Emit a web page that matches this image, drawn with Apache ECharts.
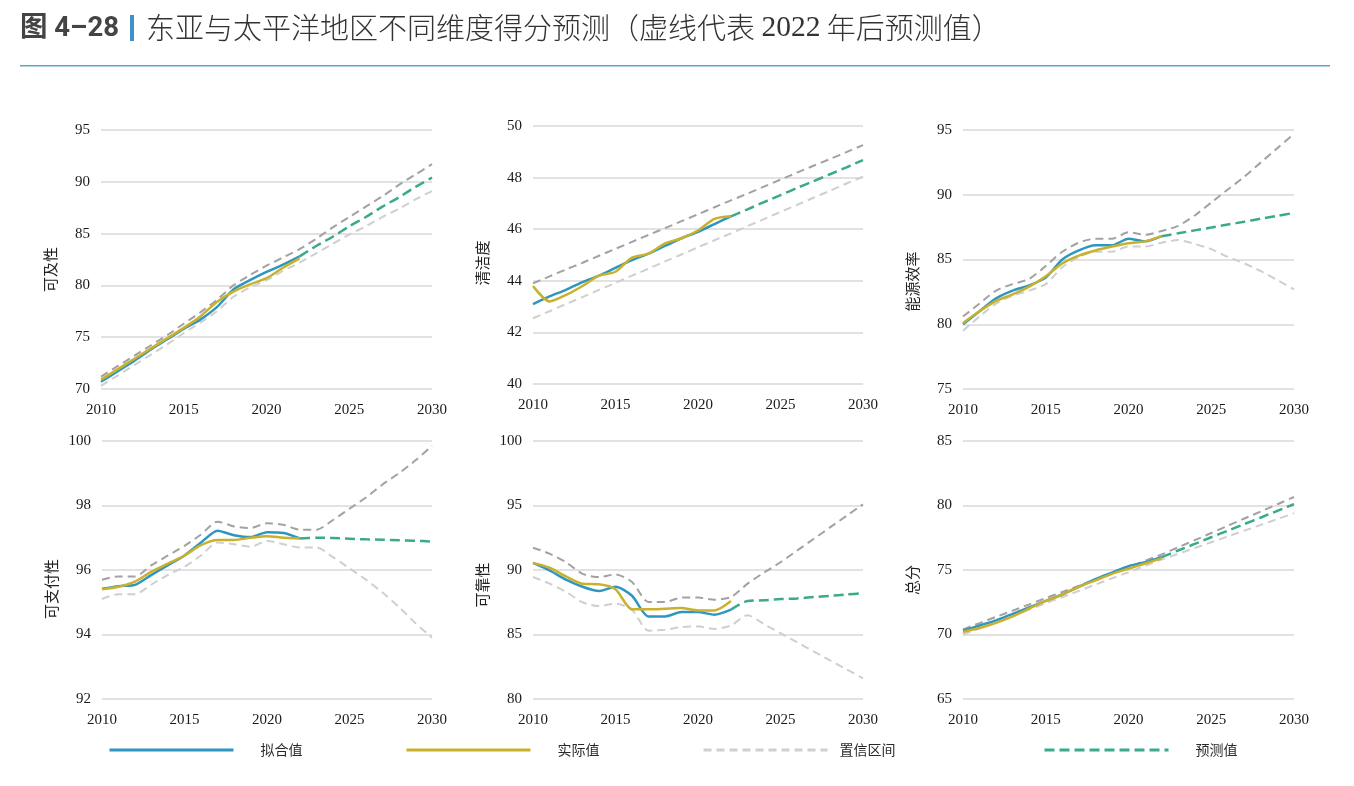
<!DOCTYPE html>
<html>
<head>
<meta charset="utf-8">
<script src="https://cdn.jsdelivr.net/npm/echarts@6/dist/echarts.min.js"></script>
<style>
html,body{margin:0;padding:0;background:#fff;}
#chart{width:1354px;height:786px;}
</style>
</head>
<body>
<div id="chart"></div>
<script>
// ---------- data ----------
const YEARS_HIST = [2010,2011,2012,2013,2014,2015,2016,2017,2018,2019,2020,2021,2022];
const YEARS_FC = [2022,2023,2024,2025,2026,2027,2028,2029,2030];
const YEARS_ALL = [2010,2011,2012,2013,2014,2015,2016,2017,2018,2019,2020,2021,2022,2023,2024,2025,2026,2027,2028,2029,2030];
const X_TICKS = [2010,2015,2020,2025,2030];

const PANEL_NAMES = ['可及性','清洁度','能源效率','可支付性','可靠性','总分'];
const LEGEND_NAMES = ['拟合值','实际值','置信区间','预测值'];

// 可及性
const access_fit = [70.7,71.7,72.7,73.8,74.8,75.8,76.7,77.9,79.6,80.5,81.3,82.0,82.8];
const access_act = [70.9,71.9,72.9,73.9,74.9,75.9,77.0,78.4,79.4,80.1,80.7,81.7,82.6];
const access_fc  = [82.8,83.8,84.7,85.7,86.6,87.6,88.5,89.5,90.4];
const access_up  = [71.2,72.2,73.2,74.2,75.2,76.3,77.4,78.6,80.0,81.0,81.9,82.7,83.5,84.5,85.6,86.6,87.6,88.6,89.7,90.7,91.7];
const access_lo  = [70.3,71.3,72.3,73.3,74.3,75.4,76.4,77.5,78.9,79.8,80.5,81.4,82.2,83.1,84.0,84.9,85.7,86.6,87.4,88.3,89.1];

// 清洁度
const clean_fit = [43.1,43.4,43.65,43.95,44.2,44.5,44.8,45.05,45.35,45.65,45.9,46.2,46.5];
const clean_act = [43.8,43.2,43.45,43.8,44.2,44.35,44.9,45.05,45.45,45.65,45.95,46.4,46.5];
const clean_fc  = [46.5,46.77,47.05,47.32,47.6,47.86,48.13,48.4,48.68];
const clean_up  = [43.9,44.17,44.44,44.7,44.97,45.24,45.51,45.78,46.04,46.31,46.58,46.85,47.12,47.38,47.65,47.92,48.19,48.46,48.72,48.99,49.26];
const clean_lo  = [42.55,42.82,43.1,43.37,43.65,43.92,44.2,44.47,44.75,45.02,45.3,45.57,45.84,46.12,46.39,46.67,46.94,47.22,47.49,47.77,48.04];

// 能源效率
const energy_fit = [80.0,81.0,82.0,82.6,83.0,83.6,85.0,85.7,86.1,86.1,86.6,86.4,86.8];
const energy_act = [80.1,81.0,81.8,82.3,82.9,83.7,84.7,85.3,85.7,86.0,86.25,86.4,86.8];
const energy_fc  = [86.8,87.02,87.25,87.47,87.7,87.92,88.15,88.37,88.6];
const energy_up  = [80.6,81.6,82.6,83.1,83.5,84.5,85.6,86.3,86.6,86.6,87.1,86.9,87.2,87.6,88.4,89.4,90.4,91.4,92.5,93.6,94.7];
const energy_lo  = [79.5,80.6,81.6,82.2,82.6,83.1,84.4,85.2,85.6,85.6,86.0,86.0,86.3,86.5,86.2,85.8,85.2,84.7,84.1,83.4,82.7];

// 可支付性
const afford_fit = [95.42,95.5,95.54,95.85,96.15,96.45,96.85,97.22,97.08,97.02,97.17,97.15,96.98];
const afford_act = [95.4,95.48,95.64,95.95,96.2,96.45,96.77,96.93,96.93,97.0,97.05,97.0,96.98];
const afford_fc  = [96.98,97.0,96.99,96.97,96.95,96.94,96.92,96.91,96.88];
const afford_up  = [95.7,95.8,95.8,96.15,96.45,96.75,97.1,97.5,97.35,97.3,97.45,97.4,97.25,97.25,97.55,97.9,98.25,98.65,99.0,99.4,99.85];
const afford_lo  = [95.1,95.25,95.25,95.55,95.85,96.1,96.45,96.85,96.8,96.72,96.9,96.8,96.7,96.7,96.4,96.05,95.7,95.3,94.85,94.35,93.9];

// 可靠性
const reliab_fit = [90.55,89.97,89.25,88.7,88.37,88.7,88.0,86.4,86.4,86.74,86.74,86.54,86.93];
const reliab_act = [90.55,90.18,89.5,88.94,88.9,88.5,86.95,86.95,87.0,87.05,86.87,86.87,87.6];
const reliab_fc  = [86.93,87.6,87.65,87.75,87.8,87.9,88.0,88.1,88.2];
const reliab_up  = [91.73,91.27,90.6,89.7,89.45,89.66,89.07,87.52,87.52,87.86,87.86,87.7,87.9,88.94,89.8,90.6,91.5,92.4,93.3,94.2,95.09];
const reliab_lo  = [89.46,88.94,88.3,87.5,87.2,87.4,86.9,85.3,85.37,85.58,85.63,85.43,85.7,86.5,85.8,85.1,84.4,83.7,83.0,82.3,81.6];

// 总分
const total_fit = [70.3,70.7,71.1,71.6,72.1,72.6,73.1,73.7,74.3,74.8,75.3,75.6,76.0];
const total_act = [70.2,70.5,70.9,71.4,72.0,72.6,73.1,73.7,74.2,74.7,75.1,75.5,75.9];
const total_fc  = [76.0,76.51,77.02,77.54,78.05,78.56,79.07,79.59,80.1];
const total_up  = [70.4,70.88,71.37,71.85,72.33,72.82,73.3,73.78,74.27,74.75,75.23,75.72,76.2,76.76,77.31,77.87,78.43,78.99,79.54,80.1,80.66];
const total_lo  = [70.0,70.48,70.97,71.45,71.93,72.42,72.9,73.38,73.87,74.35,74.83,75.32,75.8,76.25,76.7,77.15,77.6,78.05,78.5,78.95,79.4];

const Y_MIN = [70,40,75,92,80,65];
const Y_MAX = [95,50,95,100,100,85];
const Y_STEP = [5,2,5,2,5,5];

const PANELS = [
  [access_fit, access_act, access_fc, access_up, access_lo],
  [clean_fit, clean_act, clean_fc, clean_up, clean_lo],
  [energy_fit, energy_act, energy_fc, energy_up, energy_lo],
  [afford_fit, afford_act, afford_fc, afford_up, afford_lo],
  [reliab_fit, reliab_act, reliab_fc, reliab_up, reliab_lo],
  [total_fit, total_act, total_fc, total_up, total_lo]
];

// ---------- style / layout ----------
const C_FIT = '#2f97bf', C_ACT = '#c9b12e', C_FC = '#3aa98d', C_UP = '#a2a2a2', C_LO = '#cfcfcf';
const GRID_POS = [
  {left:101, top:130, width:331, height:259},
  {left:533, top:126, width:330, height:258},
  {left:963, top:130, width:331, height:259},
  {left:102, top:441, width:330, height:258},
  {left:533, top:441, width:330, height:258},
  {left:963, top:441, width:331, height:258}
];
const NAME_SHIFT = [10, 8, 22, 19, 15, 10];
const SERIF = '"Liberation Serif","DejaVu Serif",serif';
const SANS = '"Noto Sans CJK SC","Noto Sans",sans-serif';

function pairs(xs, ys){ return xs.map((x,i)=>[x, ys[i]]); }

const grids = [], xAxes = [], yAxes = [], series = [];
PANELS.forEach((p, i) => {
  grids.push(Object.assign({containLabel:false}, GRID_POS[i]));
  xAxes.push({
    type:'value', gridIndex:i, min:2010, max:2030, interval:5,
    axisLine:{show:false}, axisTick:{show:false}, splitLine:{show:false},
    axisLabel:{fontFamily:SERIF, fontSize:15, color:'#1a1a1a', margin:14,
      formatter:(v)=> X_TICKS.indexOf(v)>=0 ? String(v) : ''}
  });
  yAxes.push({
    type:'value', gridIndex:i, min:Y_MIN[i], max:Y_MAX[i], interval:Y_STEP[i],
    name:PANEL_NAMES[i], nameLocation:'middle', nameGap:43, nameRotate:90,
    nameTextStyle:{fontFamily:SANS, fontSize:15, color:'#222', padding:[0, 2*NAME_SHIFT[i], 0, 0]},
    axisLine:{show:false}, axisTick:{show:false},
    splitLine:{lineStyle:{color:'#d9d9d9', width:1.5}},
    axisLabel:{fontFamily:SERIF, fontSize:15, color:'#1a1a1a', margin:11}
  });
  const base = {xAxisIndex:i, yAxisIndex:i, type:'line', symbol:'none', smooth:0.25, silent:true};
  series.push(Object.assign({}, base, {name:'置信区间', data:pairs(YEARS_ALL, p[4]), z:1,
    lineStyle:{color:C_LO, width:2, type:[8,5]}, itemStyle:{color:C_LO}}));
  series.push(Object.assign({}, base, {name:'置信区间', data:pairs(YEARS_ALL, p[3]), z:1,
    lineStyle:{color:C_UP, width:2, type:[8,5]}, itemStyle:{color:C_UP}}));
  series.push(Object.assign({}, base, {name:'预测值', data:pairs(YEARS_FC, p[2]), z:2,
    lineStyle:{color:C_FC, width:2.5, type:[10,5]}, itemStyle:{color:C_FC}}));
  series.push(Object.assign({}, base, {name:'拟合值', data:pairs(YEARS_HIST, p[0]), z:3,
    lineStyle:{color:C_FIT, width:2.5}, itemStyle:{color:C_FIT}}));
  series.push(Object.assign({}, base, {name:'实际值', data:pairs(YEARS_HIST, p[1]), z:4,
    lineStyle:{color:C_ACT, width:2.5}, itemStyle:{color:C_ACT}}));
});

const LEG_LEFT = [103, 400, 697, 1038];
const LEG_PAD = [22, 22, 7, 22];
const legends = LEGEND_NAMES.map((n, k) => ({
  data:[n], left:LEG_LEFT[k], top:738, itemWidth:124, itemHeight:14, selectedMode:false,
  itemStyle:{opacity:0}, lineStyle:{width:3},
  textStyle:{fontFamily:SANS, fontSize:14, color:'#2a2a2a', padding:[0,0,0,LEG_PAD[k]]}
}));

const option = {
  backgroundColor:'#fff',
  animation:false,
  grid:grids, xAxis:xAxes, yAxis:yAxes, series:series,
  legend:legends,
  graphic:[
    {type:'text', left:20, top:15, style:{text:'图 4–28', fontFamily:'"Roboto","Liberation Sans",'+SANS, fontWeight:'bold', fontSize:27.5, fill:'#444'}},
    {type:'rect', left:130, top:15, shape:{width:4, height:26}, style:{fill:'#3f8fc8'}},
    {type:'text', left:146, top:13, style:{
      text:'{a|东亚与太平洋地区不同维度得分预测（虚线代表 }{b|2022}{a| 年后预测值）}',
      rich:{
        a:{fontFamily:'"Noto Sans CJK SC",sans-serif', fontSize:29, fill:'#333', fontWeight:300},
        b:{fontFamily:SERIF, fontSize:29.5, fill:'#333'}
      }}},
    {type:'rect', left:20, top:65, shape:{width:1310, height:1.5}, style:{fill:'#5aa7c6'}}
  ]
};

const chart = echarts.init(document.getElementById('chart'), null, {renderer:'canvas'});
chart.setOption(option);
</script>
</body>
</html>
